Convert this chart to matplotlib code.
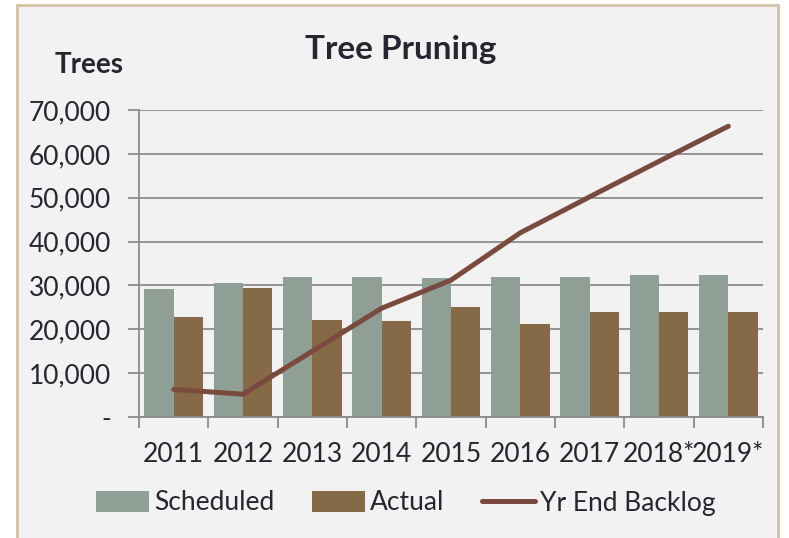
import matplotlib
matplotlib.use('Agg')
import matplotlib.pyplot as plt
from matplotlib.patches import Rectangle
from matplotlib.ticker import FuncFormatter
import numpy as np

years = ['2011', '2012', '2013', '2014', '2015', '2016', '2017', '2018*', '2019*']
scheduled = [29200, 30500, 31900, 31900, 31800, 32000, 32000, 32300, 32300]
actual = [22900, 29500, 22100, 21900, 25100, 21300, 23900, 23900, 23900]
backlog = [6300, 5200, 15000, 24800, 31200, 42000, 50200, 58300, 66300]

plt.rcParams['font.family'] = ['Lato', 'DejaVu Sans']
txt = '#262630'

fig = plt.figure(figsize=(7.89, 5.38), dpi=100)
fig.patch.set_facecolor('white')
# chart area frame
fig.patches.append(Rectangle((17/789, -0.05), (778-17)/789, 1.05 - 5/538,
                             transform=fig.transFigure, facecolor='#F2F2F2',
                             edgecolor='#D5C2A6', linewidth=2, zorder=-5))

ax = fig.add_axes([139/789, 1-417/538, (763-139)/789, (417-110)/538])
ax.set_facecolor('none')
ax.set_zorder(2)

x = np.arange(len(years))
w = 0.4235
b1 = ax.bar(x - w/2, scheduled, w, color='#8F9F95', label='Scheduled', zorder=2)
b2 = ax.bar(x + w/2, actual, w, color='#866947', label='Actual', zorder=2)
l1, = ax.plot(x, backlog, color='#7A4A3E', lw=3.6, solid_capstyle='round',
              solid_joinstyle='round', label='Yr End Backlog', zorder=3)

ax.set_xlim(-0.5, len(years) - 0.5)
ax.set_ylim(0, 70000)
ax.set_yticks(range(0, 70001, 10000))
ax.yaxis.set_major_formatter(FuncFormatter(lambda v, p: '-' if v == 0 else f'{int(v):,}'))
ax.grid(axis='y', color='#8C8C8C', lw=1.3, zorder=1)
ax.tick_params(axis='y', length=8, width=1.3, color='#8C8C8C', labelsize=19,
               labelcolor=txt, pad=12)

# category boundaries as ticks, labels in between
ax.set_xticks(np.arange(-0.5, len(years), 1))
ax.set_xticklabels([])
ax.set_xticks(x, minor=True)
ax.set_xticklabels(years, minor=True)
ax.tick_params(axis='x', which='major', length=8, width=1.3, color='#8C8C8C')
ax.tick_params(axis='x', which='minor', length=0, labelsize=19,
               labelcolor=txt, pad=18)

for s in ['top', 'right']:
    ax.spines[s].set_visible(False)
for s in ['left', 'bottom']:
    ax.spines[s].set_color('#8C8C8C')
    ax.spines[s].set_linewidth(1.3)

fig.text(401/789, 1-49/538, 'Tree Pruning', ha='center', va='center',
         fontsize=24, fontweight='bold', color=txt)
fig.text(89/789, 1-65/538, 'Trees', ha='center', va='center',
         fontsize=20, fontweight='bold', color=txt)

fig.legend([b1, b2, l1], ['Scheduled', 'Actual', 'Yr End Backlog'],
           loc='center', bbox_to_anchor=(406/789, 1-503/538), ncol=3,
           frameon=False, fontsize=19, labelcolor=txt, handlelength=2.0,
           handleheight=0.85, handletextpad=0.22, columnspacing=1.4)

plt.savefig('out.png', dpi=100)
